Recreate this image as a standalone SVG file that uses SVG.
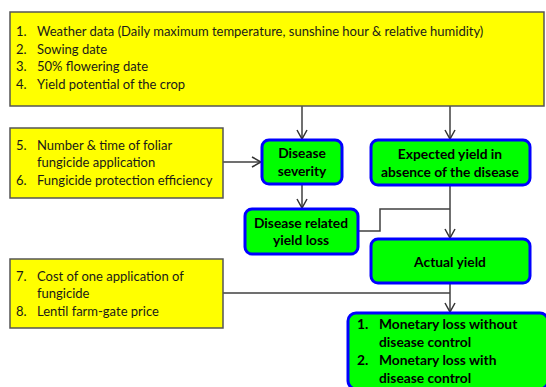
<svg xmlns="http://www.w3.org/2000/svg" width="546" height="387" viewBox="0 0 546 387">
<style>
.y{fill:#ffff00;stroke:#555555;stroke-width:1.5}
.g{fill:#00ff00;stroke:#0000ff;stroke-width:3}
.t{font-family:Lato,"Liberation Sans",sans-serif;font-size:13px;fill:#1a1a1a}
.b{font-family:Lato,"Liberation Sans",sans-serif;font-size:13.8px;font-weight:bold;fill:#000;text-anchor:middle}
.bl{font-family:Lato,"Liberation Sans",sans-serif;font-size:13.8px;font-weight:bold;fill:#000}
.c{fill:none;stroke:#404040;stroke-width:1.5}
</style>
<defs>
<marker id="ah" viewBox="0 0 12 12" refX="11" refY="6" markerWidth="12" markerHeight="12" markerUnits="userSpaceOnUse" orient="auto">
<path d="M2,1 L11,6 L2,11" fill="none" stroke="#333333" stroke-width="1.5"/>
</marker>
</defs>
<rect width="546" height="387" fill="#ffffff"/>
<g id="connectors">
<line class="c" x1="302" y1="106" x2="302" y2="139" marker-end="url(#ah)"/>
<line class="c" x1="450" y1="106" x2="450" y2="139" marker-end="url(#ah)"/>
<line class="c" x1="223" y1="162" x2="261" y2="162" marker-end="url(#ah)"/>
<line class="c" x1="302" y1="184" x2="302" y2="208" marker-end="url(#ah)"/>
<line class="c" x1="450" y1="185" x2="450" y2="238" marker-end="url(#ah)"/>
<polyline class="c" points="358,231 380,231 380,209 450,209"/>
<line class="c" x1="223" y1="293" x2="450" y2="293"/>
<line class="c" x1="450" y1="283" x2="450" y2="312" marker-end="url(#ah)"/>
</g>
<g id="inputs1">
<rect class="y" x="10" y="12" width="534" height="94"/>
<text class="t" x="16" y="36">1.</text><text class="t" x="37" y="36">Weather data (Daily maximum temperature, sunshine hour &amp; relative humidity)</text>
<text class="t" x="16" y="54">2.</text><text class="t" x="37" y="54">Sowing date</text>
<text class="t" x="16" y="71">3.</text><text class="t" x="37" y="71">50% flowering date</text>
<text class="t" x="16" y="89">4.</text><text class="t" x="37" y="89">Yield potential of the crop</text>
</g>
<g id="inputs2">
<rect class="y" x="10" y="128" width="213" height="70"/>
<text class="t" x="16" y="150">5.</text><text class="t" x="37" y="150">Number &amp; time of foliar</text>
<text class="t" x="37" y="167">fungicide application</text>
<text class="t" x="16" y="185">6.</text><text class="t" x="37" y="185">Fungicide protection efficiency</text>
</g>
<g id="inputs3">
<rect class="y" x="10" y="259" width="213" height="69"/>
<text class="t" x="16" y="281">7.</text><text class="t" x="37" y="281">Cost of one application of</text>
<text class="t" x="37" y="298">fungicide</text>
<text class="t" x="16" y="316">8.</text><text class="t" x="37" y="316">Lentil farm-gate price</text>
</g>
<g id="severity">
<rect class="g" x="262" y="140" width="80" height="44" rx="7"/>
<text class="b" x="302" y="158">Disease</text>
<text class="b" x="302" y="176">severity</text>
</g>
<g id="expected">
<rect class="g" x="371" y="140" width="159" height="45" rx="7"/>
<text class="b" x="450" y="159">Expected yield in</text>
<text class="b" x="450" y="177">absence of the disease</text>
</g>
<g id="loss">
<rect class="g" x="245" y="209" width="113" height="45" rx="7"/>
<text class="b" x="301" y="228">Disease related</text>
<text class="b" x="301" y="245">yield loss</text>
</g>
<g id="actual">
<rect class="g" x="371" y="239" width="159" height="44" rx="7"/>
<text class="b" x="450" y="267">Actual yield</text>
</g>
<g id="monetary">
<rect class="g" x="348" y="313" width="200" height="76" rx="8"/>
<text class="bl" x="357" y="329">1.</text><text class="bl" x="379" y="329">Monetary loss without</text>
<text class="bl" x="379" y="347">disease control</text>
<text class="bl" x="357" y="365">2.</text><text class="bl" x="379" y="365">Monetary loss with</text>
<text class="bl" x="379" y="383">disease control</text>
</g>
</svg>
